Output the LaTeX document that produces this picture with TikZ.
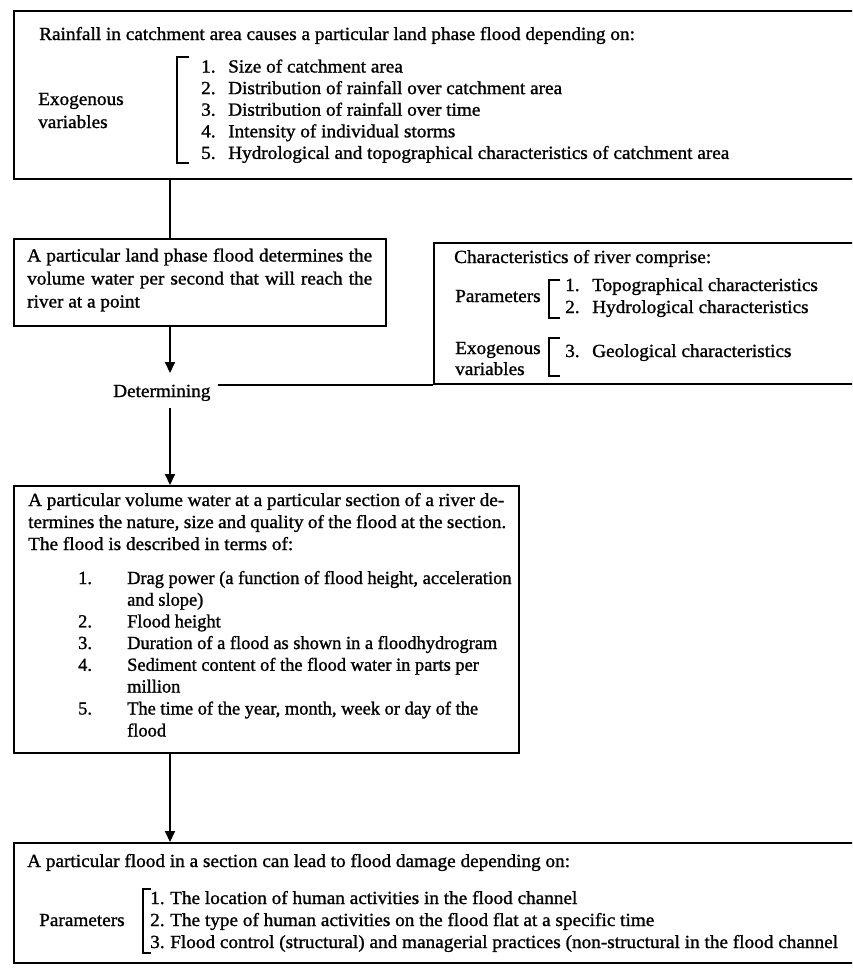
\documentclass[tikz,border=0pt]{standalone}
\usepackage{fontspec}
\setmainfont{Liberation Serif}[FakeStretch=1.04, FakeBold=1.2]
\newfontfamily\narrowfont{Liberation Serif}[FakeStretch=0.995, FakeBold=1.2]
\usetikzlibrary{arrows.meta}
\newcommand\myfs{\fontsize{18.5}{22}\selectfont}
\begin{document}
\begin{tikzpicture}[x=1pt,y=-1pt,
  box/.style={draw, line width=2.2pt, inner sep=0pt, anchor=north west},
  txt/.style={inner sep=0pt, anchor=base west, font=\myfs},
  ltxt/.style={inner sep=0pt, anchor=base west, font=\narrowfont\myfs},
  conn/.style={line width=2pt},
  arr/.style={conn, -{Triangle[width=10pt,length=11pt]}},
  brk/.style={line width=2.2pt}]
\useasboundingbox (0,0) rectangle (852,972);
\clip (0,0) rectangle (852,972);
\coordinate (sp) at (170,0);

% ---------- Box 1
\node[box, minimum width=857pt, minimum height=168pt] (b1) at (13,10) {};
\node[txt] (b1t) at (39,40) {Rainfall in catchment area causes a particular land phase flood depending on:};
\node[txt] (b1e1) at (38,105) {Exogenous};
\node[txt] (b1e2) at (38,128) {variables};
\draw[brk] (189,57) -- (177,57) -- (177,163) -- (189,163);
\foreach \i/\t [evaluate=\i as \yy using 72.5+21.6*(\i-1)] in
  {1/Size of catchment area,
   2/Distribution of rainfall over catchment area,
   3/Distribution of rainfall over time,
   4/Intensity of individual storms,
   5/Hydrological and topographical characteristics of catchment area}
  {\node[txt] (b1n\i) at (201,\yy) {\i.};
   \node[txt] (b1i\i) at (228,\yy) {\t};}

% ---------- Box 2
\node[box, minimum width=372pt, minimum height=87pt] (b2) at (13,238) {};
\node[txt] (b2l1) at (27,261.5) {\makebox[345pt][s]{A particular land phase flood determines the}};
\node[txt] (b2l2) at (27,284.5) {\makebox[345pt][s]{volume water per second that will reach the}};
\node[txt] (b2l3) at (27,307.5) {river at a point};

% ---------- Box 3
\node[box, minimum width=430pt, minimum height=141pt] (b3) at (433,242) {};
\node[txt] (b3t) at (454,263) {Characteristics of river comprise:};
\node[txt] (b3p) at (455,302) {Parameters};
\draw[brk] (560,280) -- (549,280) -- (549,318) -- (560,318);
\node[txt] (b3n1) at (565,291) {1.};
\node[txt] (b3i1) at (592,291) {Topographical characteristics};
\node[txt] (b3n2) at (565,313) {2.};
\node[txt] (b3i2) at (592,313) {Hydrological characteristics};
\node[txt] (b3e1) at (455,354) {Exogenous};
\node[txt] (b3e2) at (455,375) {variables};
\draw[brk] (560,338) -- (549,338) -- (549,376) -- (560,376);
\node[txt] (b3n3) at (565,357) {3.};
\node[txt] (b3i3) at (592,357) {Geological characteristics};

% ---------- Determining
\node[txt] (det) at (113,397) {Determining};
\coordinate (dtop) at (170,373);
\coordinate (dbot) at (170,408);

% ---------- Box 4
\node[box, minimum width=505pt, minimum height=267pt] (b4) at (13,485) {};
\node[txt] (b4l1) at (28,506) {\makebox[476pt][s]{A particular volume water at a particular section of a river de-}};
\node[txt] (b4l2) at (28,528) {\makebox[478pt][s]{termines the nature, size and quality of the flood at the section.}};
\node[txt] (b4l3) at (28,550) {The flood is described in terms of:};
\node[ltxt] (b4n1) at (78,584) {1.};
\node[ltxt] (b4i1) at (127,584) {Drag power (a function of flood height, acceleration};
\node[ltxt] (b4i1b) at (127,605.7) {and slope)};
\node[ltxt] (b4n2) at (78,627.4) {2.};
\node[ltxt] (b4i2) at (127,627.4) {Flood height};
\node[ltxt] (b4n3) at (78,649) {3.};
\node[ltxt] (b4i3) at (127,649) {Duration of a flood as shown in a floodhydrogram};
\node[ltxt] (b4n4) at (78,670.8) {4.};
\node[ltxt] (b4i4) at (127,670.8) {Sediment content of the flood water in parts per};
\node[ltxt] (b4i4b) at (127,692.5) {million};
\node[ltxt] (b4n5) at (78,714.5) {5.};
\node[ltxt] (b4i5) at (127,714.5) {The time of the year, month, week or day of the};
\node[ltxt] (b4i5b) at (127,736.5) {flood};

% ---------- Box 5
\node[box, minimum width=850pt, minimum height=120pt] (b5) at (13,842) {};
\node[txt] (b5t) at (27,867) {A particular flood in a section can lead to flood damage depending on:};
\node[txt] (b5p) at (39,926) {Parameters};
\draw[brk] (151,889) -- (143,889) -- (143,953) -- (151,953);
\node[txt] (b5n1) at (150,904) {1.};
\node[txt] (b5i1) at (170,904) {The location of human activities in the flood channel};
\node[txt] (b5n2) at (150,926) {2.};
\node[txt] (b5i2) at (170,926) {The type of human activities on the flood flat at a specific time};
\node[txt] (b5n3) at (150,948) {3.};
\node[txt] (b5i3) at (170,948) {Flood control (structural) and managerial practices (non-structural in the flood channel};

% ---------- Connectors
\draw[conn] (b1.south -| sp) -- (b2.north -| sp);
\draw[arr] (b2.south -| sp) -- (dtop);
\draw[arr] (dbot) -- (b4.north -| sp);
\draw[arr] (b4.south -| sp) -- (b5.north -| sp);
\draw[conn] ([xshift=7pt]det.east |- b3.south) -- (b3.south west);
\end{tikzpicture}
\end{document}
